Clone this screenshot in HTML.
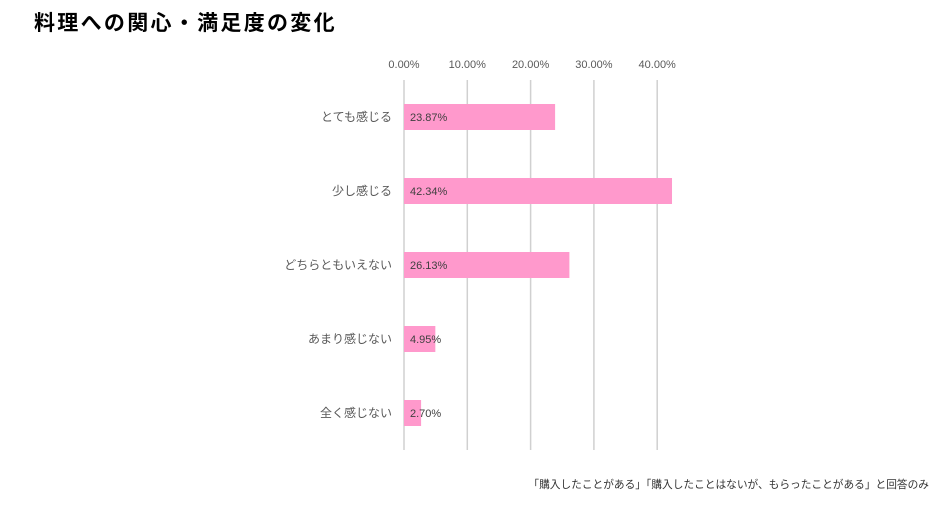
<!DOCTYPE html>
<html><head><meta charset="utf-8"><style>
body{margin:0;background:#fff;width:938px;height:503px;overflow:hidden;font-family:"Liberation Sans","Noto Sans CJK JP",sans-serif;}
</style></head><body>
<svg width="938" height="503" xmlns="http://www.w3.org/2000/svg">
<text x="34" y="30" font-size="21" font-weight="bold" letter-spacing="2.3" fill="#000" font-family="Liberation Sans,Noto Sans CJK JP,sans-serif">料理への関心・満足度の変化</text>
<g id="grid"></g><g id="bars"></g>
<text x="929" y="488" text-anchor="end" font-size="10.7" fill="#333" font-family="Liberation Sans,Noto Sans CJK JP,sans-serif">「購入したことがある」「購入したことはないが、もらったことがある」と回答のみ</text>
</svg>
<script>
const categories=["とても感じる","少し感じる","どちらともいえない","あまり感じない","全く感じない"];
const values=[23.87,42.34,26.13,4.95,2.70];
const ticks=[0,10,20,30,40];
const tickLabels=["0.00%","10.00%","20.00%","30.00%","40.00%"];
const NS="http://www.w3.org/2000/svg";
const x0=404,pxPer=6.33,plotTop=80,plotBottom=450,band=74,barH=26;
const xs=v=>x0+v*pxPer;
const ys=i=>plotTop+band*i+band/2;
const g=document.getElementById('grid'),b=document.getElementById('bars');
function mk(t,a){const e=document.createElementNS(NS,t);for(const k in a)e.setAttribute(k,a[k]);return e;}
ticks.forEach((t,i)=>{
 const l=mk('line',{x1:xs(t),x2:xs(t),y1:plotTop,y2:plotBottom,stroke:'#d0d0d0','stroke-width':1.5});
 
 
 g.appendChild(l);
 const tx=mk('text',{x:xs(t),y:68,'text-anchor':'middle','font-size':11,fill:'#595959'});
 tx.textContent=tickLabels[i];
 
 
 g.appendChild(tx);
});
categories.forEach((c,i)=>{
 const r=mk('rect',{x:x0,y:ys(i)-barH/2,width:xs(values[i])-x0,height:barH,fill:'#ff99cc'});
 
 
 b.appendChild(r);
 const lab=mk('text',{x:x0+6,y:ys(i)+4,'font-size':11,fill:'#404040'});
 lab.textContent=values[i].toFixed(2)+'%';
 
 
 b.appendChild(lab);
 const cl=mk('text',{x:392,y:ys(i)+4,'text-anchor':'end','font-size':12,fill:'#595959'});
 cl.textContent=c;
 
 
 b.appendChild(cl);
});
</script>
</body></html>
